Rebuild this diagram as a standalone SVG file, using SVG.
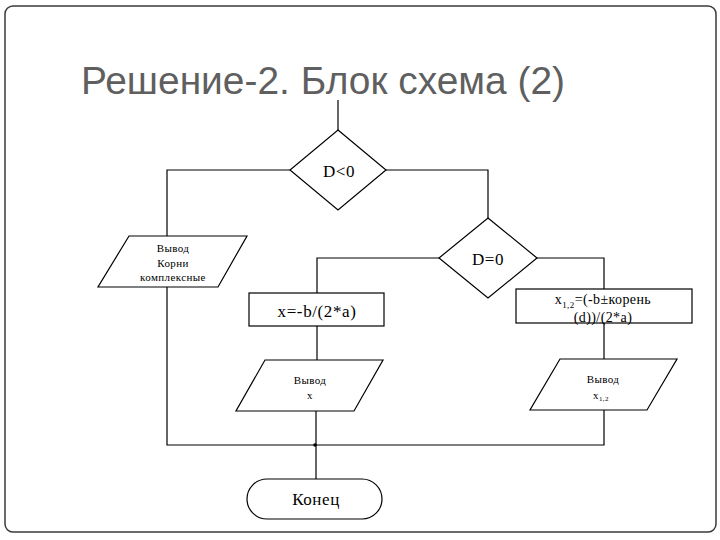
<svg xmlns="http://www.w3.org/2000/svg" width="720" height="540" viewBox="0 0 720 540">
<style>
.sh{fill:#fff;stroke:#000;stroke-width:1.2}
.ln{fill:none;stroke:#000;stroke-width:1.2}
.t{font-family:"Liberation Serif","Times New Roman",serif;fill:#000;text-anchor:middle}
.big{font-size:17px;letter-spacing:0.6px}
.sm{font-size:11px;letter-spacing:0.4px}
</style>
<rect width="720" height="540" fill="#fff"/>
<rect x="5" y="6" width="711" height="526" rx="8" ry="8" fill="none" stroke="#3a3a3a" stroke-width="1.5"/>
<text x="81" y="94" font-family="Liberation Sans, Arial, sans-serif" font-size="38" fill="#5f5f5f" textLength="484" lengthAdjust="spacingAndGlyphs">Решение-2. Блок схема (2)</text>
<g id="connectors">
<path class="ln" d="M338 100V130"/>
<path class="ln" d="M290 170H167V236"/>
<path class="ln" d="M386 170H488V218"/>
<path class="ln" d="M439 258H317V293"/>
<path class="ln" d="M537 258H604V289"/>
<path class="ln" d="M317 326V360"/>
<path class="ln" d="M604 323V359"/>
<path class="ln" d="M167 287V445H604V410"/>
<path class="ln" d="M316 411V479"/>
<circle cx="315" cy="445" r="1.8" fill="#000"/>
</g>
<g id="d_lt0">
<polygon class="sh" points="338,130 386,170 338,210 290,170"/>
<text class="t big" x="339" y="177">D&lt;0</text>
</g>
<g id="out_complex">
<polygon class="sh" points="129,236 247,236 218,287 98,287"/>
<text class="t sm" x="173" y="252">Вывод</text>
<text class="t sm" x="173" y="267">Корни</text>
<text class="t sm" x="173" y="281">комплексные</text>
</g>
<g id="d_eq0">
<polygon class="sh" points="488,218 537,258 488,298 439,258"/>
<text class="t big" x="488" y="265">D=0</text>
</g>
<g id="calc_x">
<rect class="sh" x="249" y="293" width="135" height="33"/>
<text class="t big" x="317" y="317">x=-b/(2*a)</text>
</g>
<g id="calc_x12">
<rect class="sh" x="516" y="289" width="176" height="34"/>
<text class="t" x="603" y="304" font-size="14" letter-spacing="0.4">x<tspan font-size="9" dy="4">1,2</tspan><tspan dy="-4">=(-b±корень</tspan></text>
<text class="t" x="603" y="322" font-size="14" letter-spacing="0.4">(d))/(2*a)</text>
</g>
<g id="out_x">
<polygon class="sh" points="265,360 383,360 354,411 236,411"/>
<text class="t sm" x="310" y="384">Вывод</text>
<text class="t sm" x="310" y="399">x</text>
</g>
<g id="out_x12">
<polygon class="sh" points="560,359 677,359 647,410 530,410"/>
<text class="t sm" x="603" y="383">Вывод</text>
<text class="t sm" x="601" y="399">x<tspan font-size="7" dy="2">1,2</tspan></text>
</g>
<g id="end">
<rect class="sh" x="247" y="479" width="135" height="40" rx="20" ry="20"/>
<text class="t big" x="316" y="505">Конец</text>
</g>
</svg>
